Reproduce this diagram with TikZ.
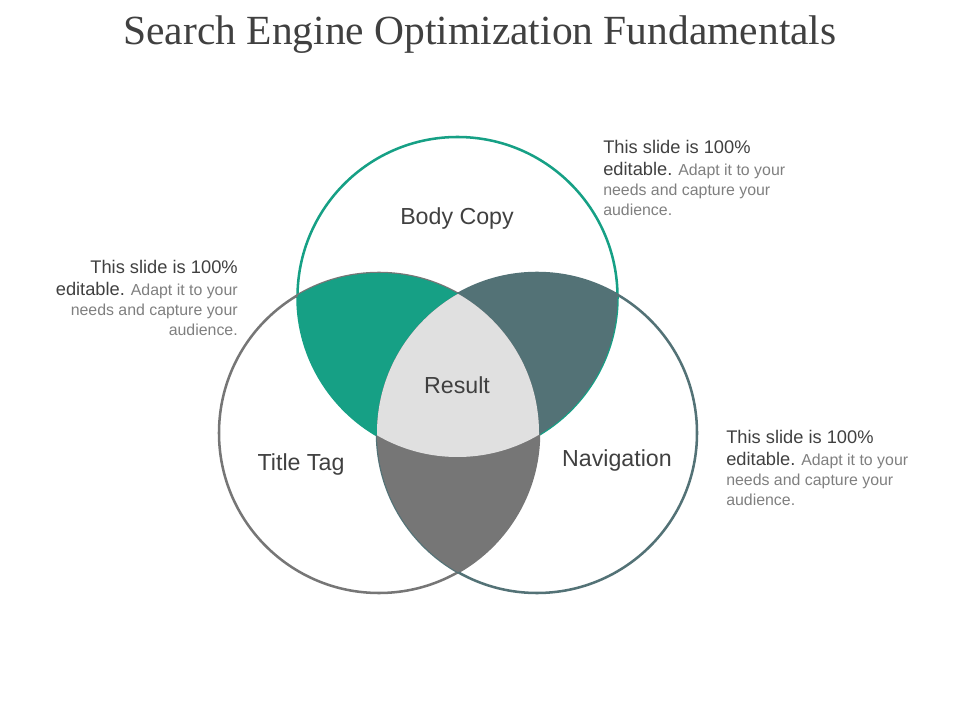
\documentclass[tikz,border=0pt]{standalone}
\usepackage{fontspec}
\setmainfont{Liberation Sans}
\newfontfamily\titlefont{Liberation Serif}

\definecolor{seoteal}{RGB}{22,160,133}
\definecolor{seoslate}{RGB}{83,114,118}
\definecolor{seogrey}{RGB}{118,118,118}
\definecolor{seolight}{RGB}{224,224,224}
\definecolor{seodark}{RGB}{64,64,64}
\definecolor{seosoft}{RGB}{127,127,127}

\tikzset{
  setlabel/.style={text=seodark, font=\fontsize{16.5}{19}\selectfont},
  sidenote/.style={align=#1, inner sep=0pt, text=seosoft,
    font=\fontsize{11.3}{14.2}\selectfont}
}
\newcommand{\leadin}[1]{\textcolor{seodark}{\fontsize{13}{14.2}\selectfont #1}}
\newcommand{\notetext}{\leadin{This slide is 100\%}\\[1.5pt]
  \leadin{editable.} Adapt it to your\\needs and capture your\\audience.}

\begin{document}
\begin{tikzpicture}[x=0.025cm, y=-0.025cm]
    \useasboundingbox (0,0) rectangle (960,720);

    % Title
    \node[text=seodark, font=\titlefont\fontsize{29.5}{32}\selectfont] (title) at (480,35)
        {Search Engine Optimization Fundamentals};

    % Circle centres
    \coordinate (top) at (457.5,297);
    \coordinate (lft) at (379,433);
    \coordinate (rgt) at (537,433);

    % Outlines
    \draw[seoteal, line width=1.8pt] (top) circle (160);
    \draw[seogrey, line width=1.8pt] (lft) circle (160);
    \draw[seoslate, line width=1.8pt] (rgt) circle (160);

    % Pairwise overlaps
    \begin{scope}
        \clip (top) circle (160);
        \fill[seoteal] (lft) circle (160);
    \end{scope}
    \begin{scope}
        \clip (top) circle (160);
        \fill[seoslate] (rgt) circle (160);
    \end{scope}
    \begin{scope}
        \clip (lft) circle (160);
        \fill[seogrey] (rgt) circle (160);
    \end{scope}

    % Centre overlap
    \begin{scope}
        \clip (top) circle (160);
        \clip (lft) circle (160);
        \fill[seolight] (rgt) circle (160);
    \end{scope}

    % Set labels
    \node[setlabel] (body) at (457,219) {Body Copy};
    \node[setlabel] (result) at (457,385) {Result};
    \node[setlabel] (titletag) at (301,465) {Title Tag};
    \node[setlabel] (navi) at (617,461) {Navigation};

    % Side notes
    \node[sidenote=left, anchor=north west] (notetop) at (603,140) {\notetext};
    \node[sidenote=right, anchor=north east] (noteleft) at (238,260) {\notetext};
    \node[sidenote=left, anchor=north west] (noteright) at (726,430) {\notetext};
\end{tikzpicture}
\end{document}
